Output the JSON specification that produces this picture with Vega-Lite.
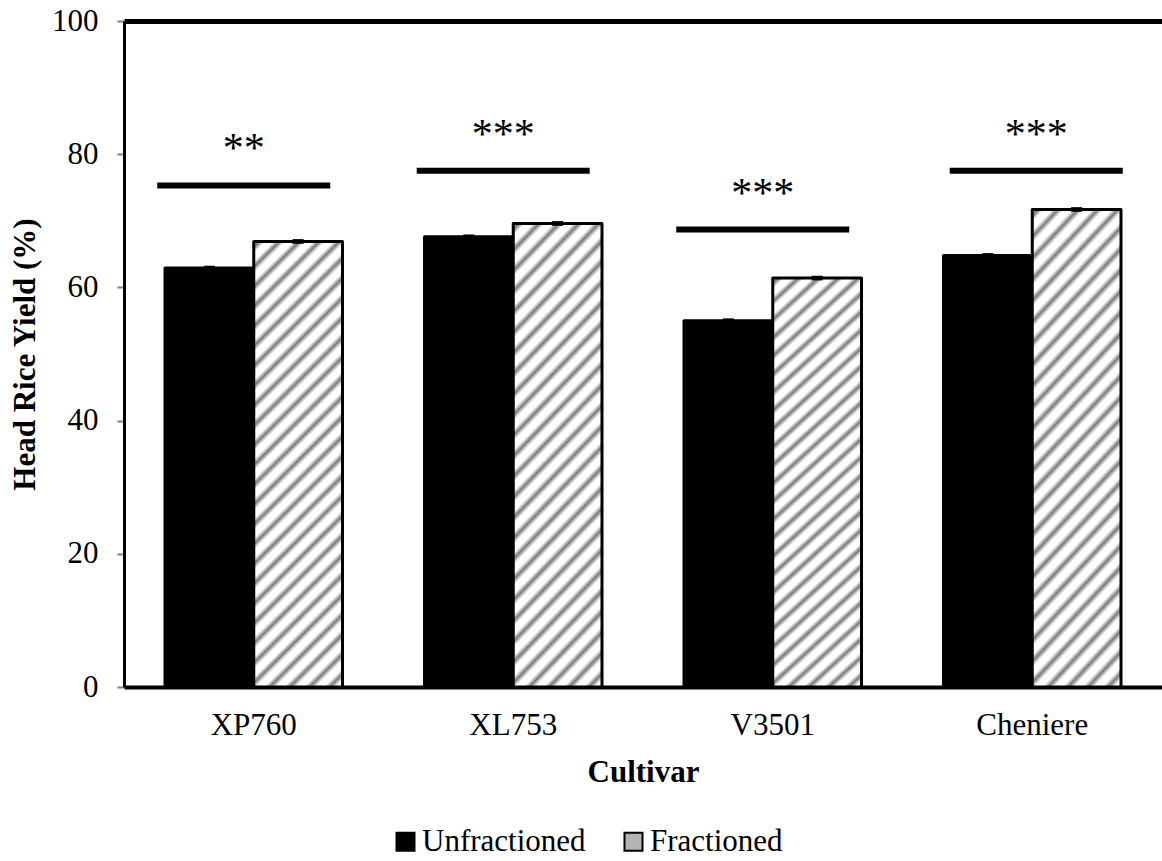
{
  "$schema": "https://vega.github.io/schema/vega-lite/v6.json",
  "autosize": {"type": "none"},
  "width": 1038,
  "height": 666,
  "padding": {"left": 124, "top": 21, "right": 0, "bottom": 174},
  "background": "white",
  "config": {
    "font": "Liberation Serif",
    "view": {"stroke": null},
    "axis": {"grid": false, "labelColor": "black", "titleColor": "black", "labelFont": "Liberation Serif", "titleFont": "Liberation Serif"}
  },
  "datasets": {
    "bars": [
      {"cultivar": "XP760", "type": "Unfractioned", "value": 62.9, "lo": 62.55, "hi": 63.25},
      {"cultivar": "XP760", "type": "Fractioned", "value": 66.9, "lo": 66.55, "hi": 67.25},
      {"cultivar": "XL753", "type": "Unfractioned", "value": 67.6, "lo": 67.25, "hi": 67.95},
      {"cultivar": "XL753", "type": "Fractioned", "value": 69.6, "lo": 69.25, "hi": 69.95},
      {"cultivar": "V3501", "type": "Unfractioned", "value": 55.0, "lo": 54.65, "hi": 55.35},
      {"cultivar": "V3501", "type": "Fractioned", "value": 61.4, "lo": 61.05, "hi": 61.75},
      {"cultivar": "Cheniere", "type": "Unfractioned", "value": 64.8, "lo": 64.45, "hi": 65.15},
      {"cultivar": "Cheniere", "type": "Fractioned", "value": 71.7, "lo": 71.35, "hi": 72.05}
    ],
    "sig": [
      {"cultivar": "XP760", "line_y": 75.3, "star_y": 78.8, "stars": "**"},
      {"cultivar": "XL753", "line_y": 77.5, "star_y": 80.9, "stars": "***"},
      {"cultivar": "V3501", "line_y": 68.7, "star_y": 72.0, "stars": "***"},
      {"cultivar": "Cheniere", "line_y": 77.5, "star_y": 80.9, "stars": "***"}
    ]
  },
  "resolve": {"axis": {"x": "independent"}},
  "layer": [
    {
      "data": {"name": "bars"},
      "mark": {"type": "bar", "stroke": "black", "strokeWidth": 3, "strokeJoin": "round"},
      "encoding": {
        "x": {
          "field": "cultivar", "type": "nominal",
          "scale": {"domain": ["XP760", "XL753", "V3501", "Cheniere"], "paddingInner": 0.316, "paddingOuter": 0.158},
          "axis": {"orient": "bottom", "title": "Cultivar", "labelAngle": 0, "labelFontSize": 31, "titleFontSize": 31, "titleFontWeight": "bold", "ticks": false, "tickSize": 0, "labelPadding": 23, "titlePadding": 17, "domainColor": "black", "domainWidth": 4}
        },
        "xOffset": {"field": "type", "type": "nominal", "scale": {"domain": ["Unfractioned", "Fractioned"]}},
        "y": {
          "field": "value", "type": "quantitative",
          "scale": {"domain": [0, 100], "nice": false},
          "axis": {"title": "Head Rice Yield (%)", "values": [0, 20, 40, 60, 80, 100], "labelFontSize": 31, "titleFontSize": 31, "titleFontWeight": "bold", "titlePadding": 10, "labelPadding": 19, "tickSize": 7, "tickColor": "#7f7f7f", "tickWidth": 2, "domainColor": "black", "domainWidth": 3}
        },
        "fill": {
          "field": "type", "type": "nominal",
          "scale": {"domain": ["Unfractioned", "Fractioned"], "range": ["#000000", "#b3b3b3"]},
          "legend": {"title": null, "orient": "none", "legendX": 266, "legendY": 805, "direction": "horizontal", "symbolType": "square", "symbolSize": 324, "symbolStrokeColor": "black", "symbolStrokeWidth": 2, "labelFontSize": 31, "labelColor": "black", "labelOffset": 1, "labelLimit": 0, "columnPadding": 32, "labelFont": "Liberation Serif"},
          "condition": {
            "test": "datum.type === 'Fractioned'",
            "value": {
              "gradient": "linear", "x1": 0, "y1": 0, "x2": 0.228, "y2": 1.153,
              "stops": [
                {"offset": 0, "color": "#ffffff"}, {"offset": 0.011, "color": "#7a7a7a"}, {"offset": 0.022, "color": "#ffffff"},
                {"offset": 0.0371, "color": "#ffffff"}, {"offset": 0.0481, "color": "#7a7a7a"}, {"offset": 0.0591, "color": "#ffffff"},
                {"offset": 0.0742, "color": "#ffffff"}, {"offset": 0.0852, "color": "#7a7a7a"}, {"offset": 0.0962, "color": "#ffffff"},
                {"offset": 0.1113, "color": "#ffffff"}, {"offset": 0.1223, "color": "#7a7a7a"}, {"offset": 0.1333, "color": "#ffffff"},
                {"offset": 0.1484, "color": "#ffffff"}, {"offset": 0.1594, "color": "#7a7a7a"}, {"offset": 0.1704, "color": "#ffffff"},
                {"offset": 0.1855, "color": "#ffffff"}, {"offset": 0.1965, "color": "#7a7a7a"}, {"offset": 0.2075, "color": "#ffffff"},
                {"offset": 0.2226, "color": "#ffffff"}, {"offset": 0.2336, "color": "#7a7a7a"}, {"offset": 0.2446, "color": "#ffffff"},
                {"offset": 0.2597, "color": "#ffffff"}, {"offset": 0.2707, "color": "#7a7a7a"}, {"offset": 0.2817, "color": "#ffffff"},
                {"offset": 0.2968, "color": "#ffffff"}, {"offset": 0.3078, "color": "#7a7a7a"}, {"offset": 0.3188, "color": "#ffffff"},
                {"offset": 0.3339, "color": "#ffffff"}, {"offset": 0.3449, "color": "#7a7a7a"}, {"offset": 0.3559, "color": "#ffffff"},
                {"offset": 0.371, "color": "#ffffff"}, {"offset": 0.382, "color": "#7a7a7a"}, {"offset": 0.393, "color": "#ffffff"},
                {"offset": 0.4081, "color": "#ffffff"}, {"offset": 0.4191, "color": "#7a7a7a"}, {"offset": 0.4301, "color": "#ffffff"},
                {"offset": 0.4452, "color": "#ffffff"}, {"offset": 0.4562, "color": "#7a7a7a"}, {"offset": 0.4672, "color": "#ffffff"},
                {"offset": 0.4823, "color": "#ffffff"}, {"offset": 0.4933, "color": "#7a7a7a"}, {"offset": 0.5043, "color": "#ffffff"},
                {"offset": 0.5194, "color": "#ffffff"}, {"offset": 0.5304, "color": "#7a7a7a"}, {"offset": 0.5414, "color": "#ffffff"},
                {"offset": 0.5565, "color": "#ffffff"}, {"offset": 0.5675, "color": "#7a7a7a"}, {"offset": 0.5785, "color": "#ffffff"},
                {"offset": 0.5936, "color": "#ffffff"}, {"offset": 0.6046, "color": "#7a7a7a"}, {"offset": 0.6156, "color": "#ffffff"},
                {"offset": 0.6307, "color": "#ffffff"}, {"offset": 0.6417, "color": "#7a7a7a"}, {"offset": 0.6527, "color": "#ffffff"},
                {"offset": 0.6678, "color": "#ffffff"}, {"offset": 0.6788, "color": "#7a7a7a"}, {"offset": 0.6898, "color": "#ffffff"},
                {"offset": 0.7049, "color": "#ffffff"}, {"offset": 0.7159, "color": "#7a7a7a"}, {"offset": 0.7269, "color": "#ffffff"},
                {"offset": 0.742, "color": "#ffffff"}, {"offset": 0.753, "color": "#7a7a7a"}, {"offset": 0.764, "color": "#ffffff"},
                {"offset": 0.7791, "color": "#ffffff"}, {"offset": 0.7901, "color": "#7a7a7a"}, {"offset": 0.8011, "color": "#ffffff"},
                {"offset": 0.8162, "color": "#ffffff"}, {"offset": 0.8272, "color": "#7a7a7a"}, {"offset": 0.8382, "color": "#ffffff"},
                {"offset": 0.8533, "color": "#ffffff"}, {"offset": 0.8643, "color": "#7a7a7a"}, {"offset": 0.8753, "color": "#ffffff"},
                {"offset": 0.8904, "color": "#ffffff"}, {"offset": 0.9014, "color": "#7a7a7a"}, {"offset": 0.9124, "color": "#ffffff"},
                {"offset": 0.9275, "color": "#ffffff"}, {"offset": 0.9385, "color": "#7a7a7a"}, {"offset": 0.9495, "color": "#ffffff"},
                {"offset": 0.9646, "color": "#ffffff"}, {"offset": 0.9756, "color": "#7a7a7a"}, {"offset": 0.9866, "color": "#ffffff"}
              ]
            }
          }
        }
      }
    },
    {
      "data": {"name": "bars"},
      "mark": {"type": "rule", "color": "black", "strokeWidth": 11},
      "encoding": {
        "x": {"field": "cultivar", "type": "nominal", "axis": null},
        "xOffset": {"field": "type", "type": "nominal"},
        "y": {"field": "lo", "type": "quantitative"},
        "y2": {"field": "hi"}
      }
    },
    {
      "data": {"name": "sig"},
      "transform": [{"filter": "datum.cultivar !== 'Cheniere'"}],
      "mark": {"type": "tick", "orient": "horizontal", "color": "black", "size": 173, "thickness": 6, "xOffset": -10, "opacity": 1},
      "encoding": {
        "x": {"field": "cultivar", "type": "nominal", "axis": {"orient": "top", "labels": false, "ticks": false, "title": null, "domainColor": "black", "domainWidth": 5}},
        "y": {"field": "line_y", "type": "quantitative"}
      }
    },
    {
      "data": {"name": "sig"},
      "transform": [{"filter": "datum.cultivar === 'Cheniere'"}],
      "mark": {"type": "tick", "orient": "horizontal", "color": "black", "size": 173, "thickness": 6, "xOffset": 4, "opacity": 1},
      "encoding": {
        "x": {"field": "cultivar", "type": "nominal", "axis": null},
        "y": {"field": "line_y", "type": "quantitative"}
      }
    },
    {
      "data": {"name": "sig"},
      "transform": [{"filter": "datum.cultivar !== 'Cheniere'"}],
      "mark": {"type": "text", "color": "black", "fontSize": 42, "dx": -10, "align": "center", "baseline": "alphabetic", "font": "Liberation Serif"},
      "encoding": {
        "x": {"field": "cultivar", "type": "nominal", "axis": null},
        "y": {"field": "star_y", "type": "quantitative"},
        "text": {"field": "stars"}
      }
    },
    {
      "data": {"name": "sig"},
      "transform": [{"filter": "datum.cultivar === 'Cheniere'"}],
      "mark": {"type": "text", "color": "black", "fontSize": 42, "dx": 4, "align": "center", "baseline": "alphabetic", "font": "Liberation Serif"},
      "encoding": {
        "x": {"field": "cultivar", "type": "nominal", "axis": null},
        "y": {"field": "star_y", "type": "quantitative"},
        "text": {"field": "stars"}
      }
    }
  ]
}
